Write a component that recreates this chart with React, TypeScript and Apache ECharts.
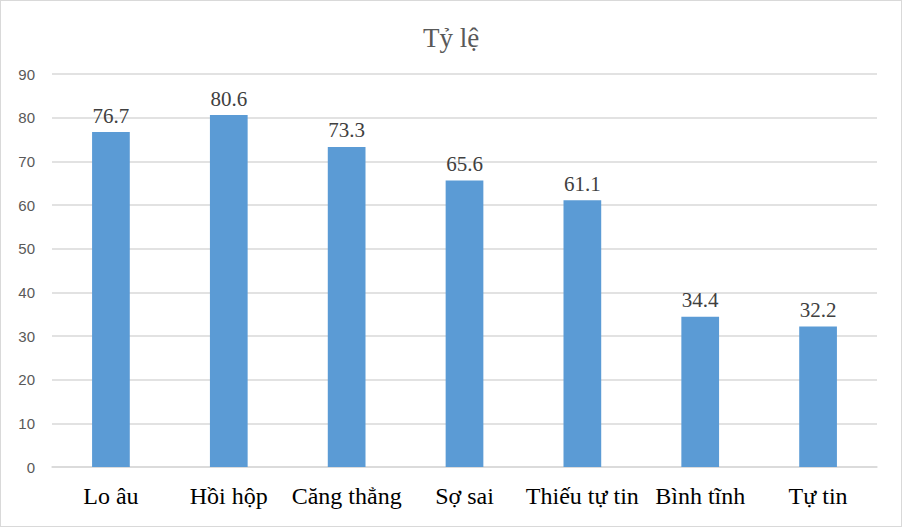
import React, { useEffect, useRef } from "react";
import * as echarts from "echarts";

const categories = ["Lo âu", "Hồi hộp", "Căng thẳng", "Sợ sai", "Thiếu tự tin", "Bình tĩnh", "Tự tin"];
const values = [76.7, 80.6, 73.3, 65.6, 61.1, 34.4, 32.2];
const chartTitle = "Tỷ lệ";

const SERIF = "'Liberation Serif', 'Times New Roman', 'DejaVu Serif', serif";
const SANS = "'Liberation Sans', Arial, sans-serif";

export default function App() {
  const ref = useRef<HTMLDivElement>(null);
  useEffect(() => {
    document.body.style.margin = "0";
    const chart = echarts.init(ref.current!, null, { renderer: "svg" });
    chart.setOption({
      animation: false,
      backgroundColor: "#ffffff",
      title: {
        text: chartTitle,
        left: "center",
        top: 18,
        textStyle: { fontFamily: SERIF, fontSize: 27, fontWeight: "normal", color: "#595959" },
      },
      grid: { left: 51, right: 24, top: 73, bottom: 59 },
      xAxis: {
        type: "category",
        data: categories,
        axisLine: { lineStyle: { color: "#d9d9d9", width: 1.5 } },
        axisTick: { show: false },
        axisLabel: { fontFamily: SERIF, fontSize: 24, color: "#000000", margin: 17, interval: 0 },
      },
      yAxis: {
        type: "value",
        min: 0,
        max: 90,
        interval: 10,
        axisLine: { show: false },
        axisTick: { show: false },
        splitLine: { lineStyle: { color: "#d9d9d9", width: 1.5 } },
        axisLabel: { fontFamily: SANS, fontSize: 15, color: "#595959", margin: 17 },
      },
      series: [
        {
          type: "bar",
          data: values,
          barWidth: "32%",
          itemStyle: { color: "#5b9bd5" },
          label: {
            show: true,
            position: "top",
            distance: 6,
            fontFamily: SERIF,
            fontSize: 21,
            color: "#404040",
          },
        },
      ],
    });
    return () => chart.dispose();
  }, []);
  return (
    <div
      ref={ref}
      style={{ width: 902, height: 527, boxSizing: "border-box", border: "1.5px solid #d9d9d9" }}
    />
  );
}
